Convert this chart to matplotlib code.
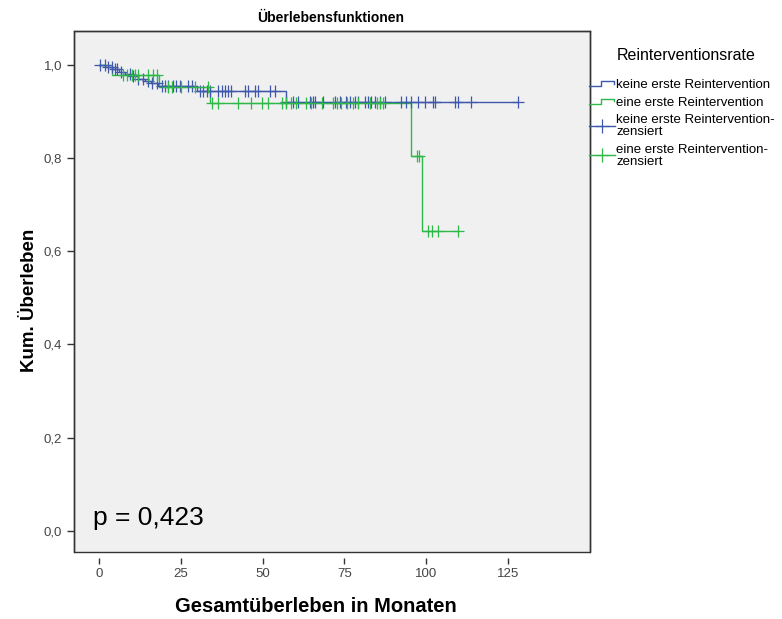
import numpy as np
import matplotlib
matplotlib.use("Agg")
import matplotlib.pyplot as plt
from matplotlib.legend_handler import HandlerBase
from matplotlib.lines import Line2D
from matplotlib.patches import Rectangle
from matplotlib.ticker import FuncFormatter

plt.rcParams['font.family'] = ['Liberation Sans', 'DejaVu Sans']

# ---------------- data ----------------
# Step functions (event time, survival after the event)
blue_times = [0, 2, 4, 6, 8, 10, 12, 14, 16, 18, 30, 57]
blue_surv = [1.0, 0.995, 0.99, 0.985, 0.98, 0.975, 0.97, 0.965, 0.96, 0.954, 0.943, 0.920]
blue_end = 128.0
blue_censored = [0.3, 1.8, 2.8, 3.9, 4.9, 5.4, 6.9, 9.5, 10.5, 12.0, 13.5, 15.0, 16.1,
                 17.6, 19.2, 20.1, 21.1, 22.6, 23.7, 24.7, 27.3, 28.3, 30.8, 31.8,
                 32.9, 33.9, 36.4, 37.5, 38.5, 39.5, 40.5, 44.6, 45.6, 47.6, 48.6,
                 52.2, 53.7, 57.3, 59.3, 60.8, 64.4, 65.4, 66.0, 68.5, 72.0, 73.6,
                 75.6, 76.6, 78.1, 79.2, 81.2, 82.2, 83.2, 84.2, 85.8, 87.3, 92.4,
                 93.9, 95.4, 97.5, 99.5, 102.0, 102.6, 108.7, 109.7, 113.8, 128.0]

green_times = [0, 4, 18.5, 34, 95.4, 98.6]
green_surv = [1.0, 0.978, 0.953, 0.918, 0.805, 0.643]
green_end = 109.7
green_censored = [7.4, 8.5, 10.0, 11.0, 12.0, 15.0, 16.6, 17.6, 21.2, 22.2, 25.2, 29.3,
                  33.4, 34.4, 36.4, 42.5, 46.6, 49.7, 51.7, 55.8, 57.3, 58.8, 60.3,
                  63.4, 64.9, 68.0, 71.5, 72.6, 74.1, 75.8, 77.6, 79.2, 82.7, 84.8,
                  85.8, 86.8, 97.1, 97.8, 100.6, 101.6, 103.7, 109.7]

x_ticks = [0, 25, 50, 75, 100, 125]
y_ticks = [0.0, 0.2, 0.4, 0.6, 0.8, 1.0]

labels = ["keine erste Reintervention", "eine erste Reintervention",
          "keine erste Reintervention-\nzensiert", "eine erste Reintervention-\nzensiert"]
title = "Überlebensfunktionen"
legend_title = "Reinterventionsrate"
xlabel = "Gesamtüberleben in Monaten"
ylabel = "Kum. Überleben"
p_text = "p = 0,423"

BLUE = '#3e58ac'
GREEN = '#2eb848'


def surv_at(times, surv, t):
    idx = np.searchsorted(np.asarray(times), np.asarray(t), side='right') - 1
    return np.asarray(surv)[idx]


fig = plt.figure(figsize=(7.82, 6.19), dpi=100)
ax = fig.add_axes([74 / 782, 1 - 552 / 619, (590 - 74) / 782, (552 - 31) / 619])
ax.set_facecolor('#f0f0f0')
ax.set_xlim(-7.6, 150)
ax.set_ylim(-0.045, 1.072)

for times, surv, end, cens, col in [(blue_times, blue_surv, blue_end, blue_censored, BLUE),
                                     (green_times, green_surv, green_end, green_censored, GREEN)]:
    xs = list(times) + [end]
    ys = list(surv) + [surv[-1]]
    ax.step(xs, ys, where='post', color=col, lw=1.0, zorder=3)
    ax.plot(cens, surv_at(times, surv, cens), ls='none', marker='+', color=col,
            markersize=8, markeredgewidth=0.9, zorder=4)

ax.text(-1.8, 0.013, p_text, fontsize=19, ha='left', va='baseline', color='black')

# spines / frame
for s in ['top', 'right', 'left']:
    ax.spines[s].set_color('#333333')
    ax.spines[s].set_linewidth(1.0)
ax.spines['bottom'].set_position(('outward', 4))
ax.spines['bottom'].set_color('none')
ax.add_patch(Rectangle((0, 0), 1, 1, transform=ax.transAxes, fill=False,
                       edgecolor='#333333', lw=1.0, clip_on=False, zorder=5))

ax.set_xticks(x_ticks)
ax.set_yticks(y_ticks)
ax.yaxis.set_major_formatter(FuncFormatter(lambda v, p: f"{v:.1f}".replace('.', ',')))
ax.tick_params(axis='both', labelsize=9.5, colors='#333333', labelcolor='#444444',
               width=1.0)
ax.tick_params(axis='y', length=5, pad=3.5)
ax.tick_params(axis='x', length=4.5, pad=3)

fig.text(316 / 782, 1 - 607 / 619, xlabel, fontsize=14.5, fontweight='bold',
         ha='center', va='center')
fig.text(30 / 782, 1 - 300 / 619, ylabel, fontsize=13.5, fontweight='bold',
         ha='center', va='center', rotation=90)
fig.text(331 / 782, 1 - 18 / 619, title, fontsize=10, fontweight='bold',
         ha='center', va='center')

# legend title drawn separately (larger gap than Legend allows)
fig.text(617 / 782, 1 - 55 / 619, legend_title, fontsize=11.5, ha='left', va='center')


class StepHandler(HandlerBase):
    def create_artists(self, legend, orig_handle, xdescent, ydescent, width, height,
                       fontsize, trans):
        x0 = -xdescent
        y0 = -ydescent
        xs = [x0, x0 + 0.45 * width, x0 + 0.45 * width, x0 + 0.93 * width,
              x0 + 0.93 * width]
        ys = [y0 + 0.15 * height, y0 + 0.15 * height, y0 + 0.75 * height,
              y0 + 0.75 * height, y0 + 0.45 * height]
        ln = Line2D(xs, ys, color=orig_handle.get_color(), lw=1.0, transform=trans)
        return [ln]


h1 = Line2D([], [], color=BLUE)
h2 = Line2D([], [], color=GREEN)
h3 = Line2D([], [], color=BLUE, marker='+', markersize=10, markeredgewidth=0.9, lw=1.0)
h4 = Line2D([], [], color=GREEN, marker='+', markersize=10, markeredgewidth=0.9, lw=1.0)

leg = fig.legend([h1, h2, h3, h4], labels, loc='upper left',
                 bbox_to_anchor=(589 / 782, 1 - 78.5 / 619), frameon=False,
                 fontsize=9.5, borderpad=0,
                 handler_map={h1: StepHandler(), h2: StepHandler()},
                 handlelength=2.0, handletextpad=0.05, labelspacing=0.42,
                 borderaxespad=0, numpoints=1)
for t in leg.get_texts():
    t.set_linespacing(1.0)

fig.savefig('out.png', dpi=100)
